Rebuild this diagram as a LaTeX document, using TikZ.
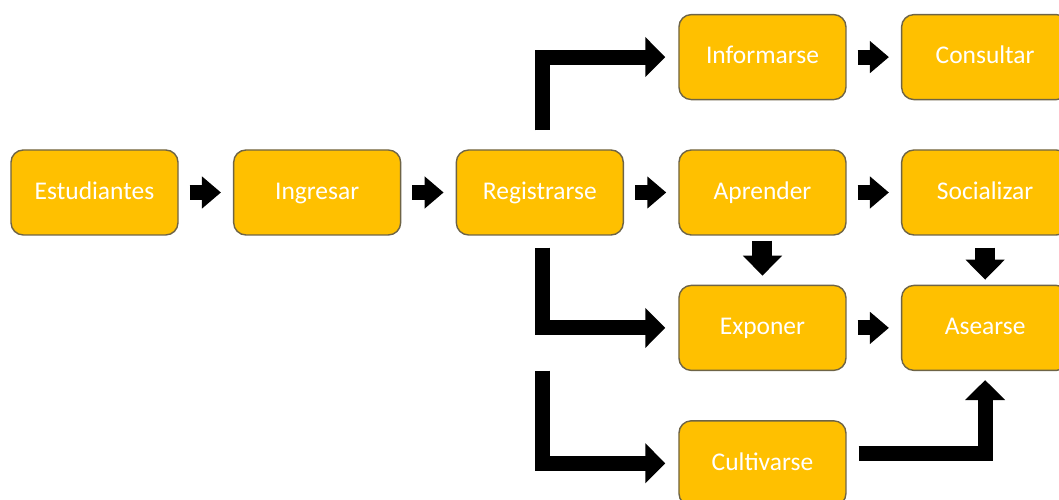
\documentclass[tikz,border=0pt]{standalone}
\usepackage{fontspec}
\setmainfont{Carlito}
\usepackage{tikz}
\usetikzlibrary{arrows.meta,positioning}
\definecolor{boxfill}{HTML}{FFC000}
\definecolor{boxline}{HTML}{6E6446}

\begin{document}
\begin{tikzpicture}[
        node distance=0.98cm and 1.085cm,
        task/.style={
            draw=boxline,
            fill=boxfill,
            rectangle,
            rounded corners=7pt,
            align=center,
            minimum width=3.34cm,
            minimum height=1.7cm,
            text height=2.1ex,
            text depth=0.5ex,
            text=white,
            font=\fontsize{14.5}{17}\selectfont,
            line width=0.8pt
        },
        link/.style={
            -{Triangle[width=0.62cm,length=0.38cm]},
            line width=0.3cm,
            shorten <=0.22cm,
            shorten >=0.24cm
        },
        drop/.style={
            -{Triangle[width=0.76cm,length=0.4cm]},
            line width=0.4cm
        },
        elbow/.style={
            -{Triangle[width=0.78cm,length=0.4cm]},
            line width=0.3cm
        }
    ]

    \useasboundingbox (-1.89,-6.15) rectangle (19.29,3.85);

    \node[task] (est) {Estudiantes};
    \node[task, right=of est] (ing) {Ingresar};
    \node[task, right=of ing] (reg) {Registrarse};
    \node[task, right=of reg] (apr) {Aprender};
    \node[task, right=of apr] (soc) {Socializar};
    \node[task, above=of apr] (inf) {Informarse};
    \node[task, right=of inf] (con) {Consultar};
    \node[task, below=of apr] (exp) {Exponer};
    \node[task, right=of exp] (ase) {Asearse};
    \node[task, below=of exp] (cul) {Cultivarse};

    % straight arrows
    \draw[link] (est) -- (ing);
    \draw[link] (ing) -- (reg);
    \draw[link] (reg) -- (apr);
    \draw[link] (apr) -- (soc);
    \draw[link] (inf) -- (con);
    \draw[link] (exp) -- (ase);

    \draw[drop, shorten <=0.1cm, shorten >=0.18cm] (apr) -- (exp);
    \draw[drop, shorten <=0.24cm, shorten >=0.1cm] (soc) -- (ase);

    % bent arrows out of Registrarse
    \draw[elbow, shorten <=0.38cm, shorten >=0.26cm]
        ([xshift=0.05cm]reg.north) |- (inf.west);
    \draw[elbow, shorten <=0.24cm, shorten >=0.26cm]
        ([xshift=0.05cm]reg.south) |- (exp.west);
    \draw[elbow, shorten <=2.7cm, shorten >=0.26cm]
        ([xshift=0.05cm]reg.south) |- (cul.west);

    \draw[elbow, shorten <=0.24cm, shorten >=0.18cm]
        ([yshift=0.19cm]cul.east) -| (ase.south);

\end{tikzpicture}
\end{document}
